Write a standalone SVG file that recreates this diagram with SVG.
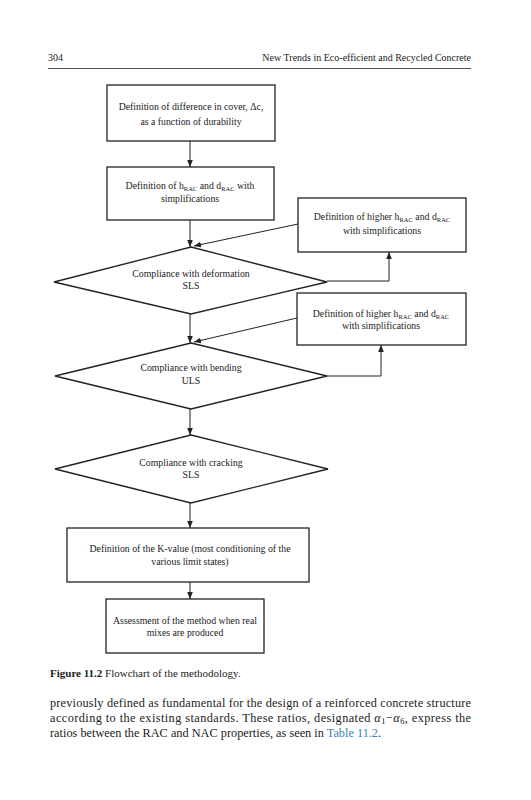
<svg xmlns="http://www.w3.org/2000/svg" width="531" height="800" viewBox="0 0 531 800">
<defs>
<marker id="ah" viewBox="0 0 10 10" refX="10" refY="5" markerWidth="7" markerHeight="7" orient="auto" markerUnits="userSpaceOnUse">
<path d="M0,1 L10,5 L0,9 Z" fill="#222"/>
</marker>
</defs>
<style>
text{font-family:'Liberation Serif','DejaVu Serif',serif;fill:#222}
.n{font-size:9.8px;text-anchor:middle}
.s{font-size:6.5px}
.box{fill:#fff;stroke:#222;stroke-width:1.3}
.c{fill:none;stroke:#222;stroke-width:1}
.hd{font-size:10px}
.bd{font-size:12.3px}
</style>
<rect width="531" height="800" fill="#fff"/>
<text class="hd" x="48" y="61">304</text>
<text class="hd" x="471" y="61" text-anchor="end">New Trends in Eco-efficient and Recycled Concrete</text>
<line x1="48" y1="68.5" x2="471" y2="68.5" stroke="#222" stroke-width="0.8"/>

<g id="connectors">
<line class="c" x1="190" y1="141" x2="190" y2="167" marker-end="url(#ah)"/>
<line class="c" x1="190" y1="220" x2="190" y2="247" marker-end="url(#ah)"/>
<line class="c" x1="298" y1="224" x2="194" y2="246" marker-end="url(#ah)"/>
<polyline class="c" points="327,281 389,281 389,252" marker-end="url(#ah)"/>
<line class="c" x1="190" y1="314" x2="190" y2="343" marker-end="url(#ah)"/>
<line class="c" x1="297" y1="318" x2="194" y2="342" marker-end="url(#ah)"/>
<polyline class="c" points="327,376 381,376 381,345" marker-end="url(#ah)"/>
<line class="c" x1="190" y1="409" x2="190" y2="435" marker-end="url(#ah)"/>
<line class="c" x1="190" y1="503" x2="190" y2="528" marker-end="url(#ah)"/>
<line class="c" x1="190" y1="582" x2="190" y2="599" marker-end="url(#ah)"/>
</g>

<g id="n1">
<rect class="box" x="107" y="85" width="168" height="56"/>
<text class="n" x="191" y="110">Definition of difference in cover, Δc,</text>
<text class="n" x="191" y="125">as a function of durability</text>
</g>
<g id="n2">
<rect class="box" x="107" y="167" width="167" height="53"/>
<text class="n" x="190" y="189">Definition of h<tspan class="s" dy="1.5">RAC</tspan><tspan dy="-1.5"> and d</tspan><tspan class="s" dy="1.5">RAC</tspan><tspan dy="-1.5"> with</tspan></text>
<text class="n" x="190" y="202">simplifications</text>
</g>
<g id="n3">
<rect class="box" x="298" y="198" width="168" height="54"/>
<text class="n" x="382" y="220">Definition of higher h<tspan class="s" dy="1.5">RAC</tspan><tspan dy="-1.5"> and d</tspan><tspan class="s" dy="1.5">RAC</tspan></text>
<text class="n" x="382" y="234">with simplifications</text>
</g>
<g id="n4">
<polygon class="box" points="191,247 327,282 191,314 54,282"/>
<text class="n" x="191" y="277">Compliance with deformation</text>
<text class="n" x="191" y="289">SLS</text>
</g>
<g id="n5">
<rect class="box" x="297" y="293" width="169" height="52"/>
<text class="n" x="381" y="317">Definition of higher h<tspan class="s" dy="1.5">RAC</tspan><tspan dy="-1.5"> and d</tspan><tspan class="s" dy="1.5">RAC</tspan></text>
<text class="n" x="381" y="329">with simplifications</text>
</g>
<g id="n6">
<polygon class="box" points="191,343 327,376 191,409 55,376"/>
<text class="n" x="191" y="371">Compliance with bending</text>
<text class="n" x="191" y="384">ULS</text>
</g>
<g id="n7">
<polygon class="box" points="191,435 328,469 191,503 55,469"/>
<text class="n" x="191" y="466">Compliance with cracking</text>
<text class="n" x="191" y="478">SLS</text>
</g>
<g id="n8">
<rect class="box" x="67" y="528" width="242" height="54"/>
<text class="n" x="190" y="552">Definition of the K-value (most conditioning of the</text>
<text class="n" x="190" y="565">various limit states)</text>
</g>
<g id="n9">
<rect class="box" x="106" y="599" width="158" height="54"/>
<text class="n" x="185" y="624">Assessment of the method when real</text>
<text class="n" x="185" y="636">mixes are produced</text>
</g>

<text x="50" y="677" font-size="11px"><tspan font-weight="bold">Figure 11.2</tspan>  Flowchart of the methodology.</text>
<text class="bd" x="50" y="707" textLength="421" lengthAdjust="spacing">previously defined as fundamental for the design of a reinforced concrete structure</text>
<text class="bd" x="50" y="722" textLength="421" lengthAdjust="spacing">according to the existing standards. These ratios, designated <tspan font-style="italic">α</tspan><tspan font-size="8.5px" dy="2">1</tspan><tspan dy="-2">−</tspan><tspan font-style="italic">α</tspan><tspan font-size="8.5px" dy="2">6</tspan><tspan dy="-2">, express the</tspan></text>
<text class="bd" x="50" y="737">ratios between the RAC and NAC properties, as seen in <tspan fill="#3d7fc1">Table 11.2</tspan>.</text>
</svg>
